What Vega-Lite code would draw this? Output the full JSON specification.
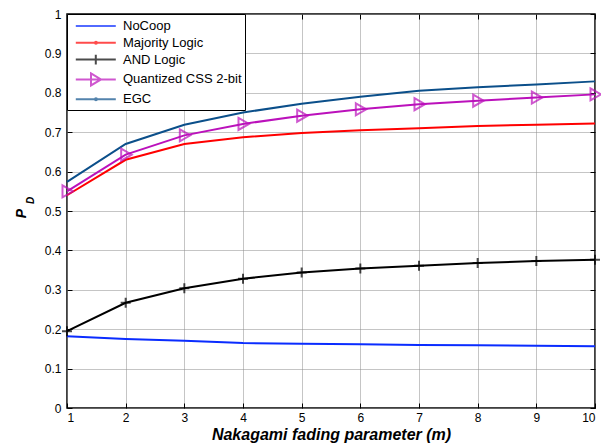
{
  "$schema": "https://vega.github.io/schema/vega-lite/v6.json",
  "width": 528,
  "height": 394,
  "autosize": "none",
  "padding": {"left": 67, "top": 14, "right": 6, "bottom": 38},
  "background": "white",
  "datasets": {
    "pd": [
      {"m": 1, "pd": 0.182, "series": "NoCoop"},
      {"m": 2, "pd": 0.175, "series": "NoCoop"},
      {"m": 3, "pd": 0.171, "series": "NoCoop"},
      {"m": 4, "pd": 0.165, "series": "NoCoop"},
      {"m": 5, "pd": 0.163, "series": "NoCoop"},
      {"m": 6, "pd": 0.162, "series": "NoCoop"},
      {"m": 7, "pd": 0.160, "series": "NoCoop"},
      {"m": 8, "pd": 0.159, "series": "NoCoop"},
      {"m": 9, "pd": 0.158, "series": "NoCoop"},
      {"m": 10, "pd": 0.157, "series": "NoCoop"},
      {"m": 1, "pd": 0.540, "series": "Majority Logic"},
      {"m": 2, "pd": 0.630, "series": "Majority Logic"},
      {"m": 3, "pd": 0.670, "series": "Majority Logic"},
      {"m": 4, "pd": 0.687, "series": "Majority Logic"},
      {"m": 5, "pd": 0.698, "series": "Majority Logic"},
      {"m": 6, "pd": 0.705, "series": "Majority Logic"},
      {"m": 7, "pd": 0.710, "series": "Majority Logic"},
      {"m": 8, "pd": 0.716, "series": "Majority Logic"},
      {"m": 9, "pd": 0.719, "series": "Majority Logic"},
      {"m": 10, "pd": 0.722, "series": "Majority Logic"},
      {"m": 1, "pd": 0.195, "series": "AND Logic"},
      {"m": 2, "pd": 0.267, "series": "AND Logic"},
      {"m": 3, "pd": 0.304, "series": "AND Logic"},
      {"m": 4, "pd": 0.328, "series": "AND Logic"},
      {"m": 5, "pd": 0.344, "series": "AND Logic"},
      {"m": 6, "pd": 0.354, "series": "AND Logic"},
      {"m": 7, "pd": 0.361, "series": "AND Logic"},
      {"m": 8, "pd": 0.368, "series": "AND Logic"},
      {"m": 9, "pd": 0.373, "series": "AND Logic"},
      {"m": 10, "pd": 0.376, "series": "AND Logic"},
      {"m": 1, "pd": 0.550, "series": "Quantized CSS 2-bit"},
      {"m": 2, "pd": 0.643, "series": "Quantized CSS 2-bit"},
      {"m": 3, "pd": 0.692, "series": "Quantized CSS 2-bit"},
      {"m": 4, "pd": 0.721, "series": "Quantized CSS 2-bit"},
      {"m": 5, "pd": 0.742, "series": "Quantized CSS 2-bit"},
      {"m": 6, "pd": 0.758, "series": "Quantized CSS 2-bit"},
      {"m": 7, "pd": 0.771, "series": "Quantized CSS 2-bit"},
      {"m": 8, "pd": 0.780, "series": "Quantized CSS 2-bit"},
      {"m": 9, "pd": 0.788, "series": "Quantized CSS 2-bit"},
      {"m": 10, "pd": 0.796, "series": "Quantized CSS 2-bit"},
      {"m": 1, "pd": 0.574, "series": "EGC"},
      {"m": 2, "pd": 0.670, "series": "EGC"},
      {"m": 3, "pd": 0.719, "series": "EGC"},
      {"m": 4, "pd": 0.750, "series": "EGC"},
      {"m": 5, "pd": 0.772, "series": "EGC"},
      {"m": 6, "pd": 0.790, "series": "EGC"},
      {"m": 7, "pd": 0.805, "series": "EGC"},
      {"m": 8, "pd": 0.814, "series": "EGC"},
      {"m": 9, "pd": 0.821, "series": "EGC"},
      {"m": 10, "pd": 0.829, "series": "EGC"}
    ]
  },
  "data": {"name": "pd"},
  "config": {
    "view": {"stroke": "black", "strokeWidth": 1.5},
    "font": "Liberation Sans",
    "axis": {
      "labelFont": "Liberation Sans",
      "labelFontSize": 12,
      "labelColor": "black",
      "domain": false,
      "tickColor": "black",
      "tickSize": -5,
      "tickWidth": 1,
      "gridColor": "#8a8a8a",
      "gridDash": [1, 1],
      "gridWidth": 1,
      "titleFont": "Liberation Sans",
      "titleFontWeight": "bold",
      "titleFontStyle": "italic",
      "titleColor": "black"
    },
    "legend": {
      "orient": "top-left",
      "offset": 0,
      "title": null,
      "padding": 3,
      "strokeColor": "black",
      "fillColor": "white",
      "labelFont": "Liberation Sans",
      "labelFontSize": 13,
      "labelColor": "black",
      "labelOffset": 35,
      "symbolSize": 256,
      "symbolStrokeWidth": 2,
      "symbolFillColor": "transparent",
      "rowPadding": 0.8
    }
  },
  "layer": [
    {
      "mark": {"type": "line", "strokeWidth": 2},
      "encoding": {
        "x": {"field": "m", "type": "quantitative", "scale": {"domain": [1, 10], "nice": false, "zero": false},
          "axis": {"values": [1,2,3,4,5,6,7,8,9,10], "format": "d", "labelPadding": 9, "title": "Nakagami fading parameter (m)", "titleFontSize": 16, "titleY": 31, "titleBaseline": "alphabetic"}},
        "y": {"field": "pd", "type": "quantitative", "scale": {"domain": [0, 1], "nice": false},
          "axis": {"values": [0,0.1,0.2,0.3,0.4,0.5,0.6,0.7,0.8,0.9,1], "format": ".1~f", "labelPadding": 11, "title": "P", "titleFontSize": 14, "titleAngle": 270, "titleX": -46, "titleY": 199, "titleAlign": "center", "titleBaseline": "middle"}},
        "color": {"field": "series", "type": "nominal",
          "scale": {"domain": ["NoCoop", "Majority Logic", "AND Logic", "Quantized CSS 2-bit", "EGC"],
                    "range": ["#0a2cff", "#ff0000", "#000000", "#bb11bb", "#0b4f8a"]}},
        "detail": {"field": "series"}
      }
    },
    {
      "transform": [{"filter": "datum.series == 'AND Logic'"}],
      "mark": {"type": "point", "shape": "M-1,0H1M0,-1V1", "size": 100, "filled": false, "strokeWidth": 2},
      "encoding": {
        "x": {"field": "m", "type": "quantitative", "axis": null},
        "y": {"field": "pd", "type": "quantitative", "axis": null},
        "color": {"field": "series", "type": "nominal"}
      }
    },
    {
      "transform": [{"filter": "datum.series == 'Quantized CSS 2-bit'"}],
      "mark": {"type": "point", "shape": "M-0.75,-1L1,0L-0.75,1Z", "size": 144, "filled": false, "strokeWidth": 2},
      "encoding": {
        "x": {"field": "m", "type": "quantitative", "axis": null},
        "y": {"field": "pd", "type": "quantitative", "axis": null},
        "color": {"field": "series", "type": "nominal"}
      }
    },
    {
      "transform": [{"filter": "datum.m > 100"}],
      "mark": {"type": "point", "filled": false, "strokeWidth": 2},
      "encoding": {
        "x": {"field": "m", "type": "quantitative",
          "axis": {"orient": "top", "values": [1,2,3,4,5,6,7,8,9,10], "labels": false, "grid": false, "title": null}},
        "y": {"field": "pd", "type": "quantitative",
          "axis": {"orient": "right", "values": [0,0.1,0.2,0.3,0.4,0.5,0.6,0.7,0.8,0.9,1], "labels": false, "grid": false, "title": "D", "titleFontSize": 10, "titleAngle": 270, "titleX": -565, "titleY": 186, "titleAlign": "center", "titleBaseline": "middle"}},
        "color": {"field": "series", "type": "nominal"},
        "shape": {"field": "series", "type": "nominal",
          "scale": {"domain": ["NoCoop", "Majority Logic", "AND Logic", "Quantized CSS 2-bit", "EGC"],
                    "range": [
                      "M-0.4,0H4.6",
                      "M-0.4,0H4.6M2,0A0.12,0.12 0 1,1 2.24,0A0.12,0.12 0 1,1 2,0",
                      "M-0.4,0H4.6M2.1,-0.6V0.6",
                      "M-0.4,0H4.6M1.5,-0.75L2.75,0L1.5,0.75Z",
                      "M-0.4,0H4.6M2,0A0.12,0.12 0 1,1 2.24,0A0.12,0.12 0 1,1 2,0"
                    ]}}
      }
    }
  ],
  "resolve": {"axis": {"x": "independent", "y": "independent"}}
}
